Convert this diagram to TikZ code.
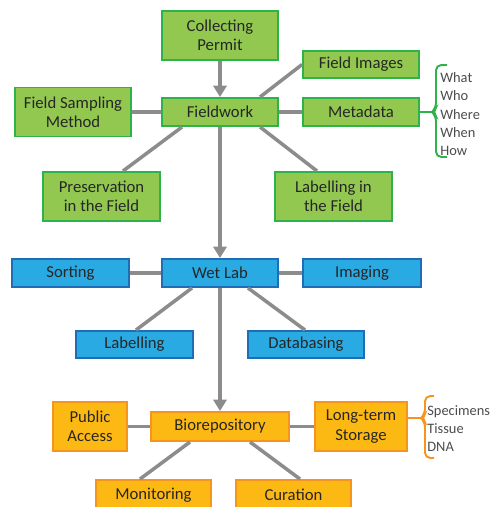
\documentclass[tikz,border=0pt]{standalone}
\usepackage{fontspec}
\setmainfont{Carlito}
\usetikzlibrary{arrows.meta}

\definecolor{grnfill}{HTML}{92C84F}
\definecolor{grnline}{HTML}{2DB34A}
\definecolor{bluefill}{HTML}{29AAE2}
\definecolor{blueline}{HTML}{1F6DB4}
\definecolor{orgfill}{HTML}{FDB913}
\definecolor{orgline}{HTML}{F7941D}
\definecolor{linkgray}{HTML}{8C8C8C}
\definecolor{txtdark}{HTML}{262626}

\begin{document}
\begin{tikzpicture}[x=0.02cm, y=-0.02cm,
	box/.style={draw, line width=1.1pt, align=center, inner sep=0pt, text=txtdark,
		font=\fontsize{9.5}{11}\selectfont, minimum width=2.32cm, minimum height=0.56cm},
	tall/.style={minimum height=0.98cm},
	fieldbox/.style={box, fill=grnfill, draw=grnline},
	labbox/.style={box, fill=bluefill, draw=blueline},
	repobox/.style={box, fill=orgfill, draw=orgline},
	link/.style={draw=linkgray, line width=2pt},
	flow/.style={link, -{Triangle[width=7.5pt,length=6.5pt]}},
	sidelist/.style={align=left, anchor=north west, inner sep=0pt, text=black!70,
		font=\fontsize{8.2}{10.3}\selectfont}]
	\useasboundingbox (0,0) rectangle (494,507);
	% fieldwork stage
	\node[fieldbox, tall] (permit) at (220,35.5) {Collecting\\Permit};
	\node[fieldbox] (fieldwork) at (220,112) {Fieldwork};
	\node[fieldbox, minimum height=0.54cm] (images) at (361,64.5) {Field Images};
	\node[fieldbox, tall] (method) at (73,112) {Field Sampling\\Method};
	\node[fieldbox] (metadata) at (361,112) {Metadata};
	\node[fieldbox, tall, minimum width=2.34cm] (preserv) at (101.5,196.5) {Preservation\\in the Field};
	\node[fieldbox, tall, minimum width=2.34cm] (labfield) at (333.5,196.5) {Labelling in\\the Field};
	% wet lab stage
	\node[labbox, minimum width=2.34cm] (sorting) at (70.5,273) {Sorting};
	\node[labbox] (wetlab) at (220,273) {Wet Lab};
	\node[labbox, minimum width=2.36cm] (imaging) at (362,273) {Imaging};
	\node[labbox, minimum width=2.34cm, minimum height=0.54cm] (labelling) at (134.5,344.5) {Labelling};
	\node[labbox, minimum height=0.54cm] (databasing) at (306,344.5) {Databasing};
	% repository stage
	\node[repobox, tall, minimum width=1.48cm] (public) at (90,426.5) {Public\\Access};
	\node[repobox, minimum width=2.76cm, minimum height=0.58cm] (bio) at (220,426.5) {Biorepository};
	\node[repobox, tall, minimum width=1.84cm] (storage) at (361,426.5) {Long-term\\Storage};
	\node[repobox, minimum width=2.3cm, minimum height=0.6cm] (monitoring) at (153.5,495) {Monitoring};
	\node[repobox, minimum width=2.3cm, minimum height=0.6cm] (curation) at (293.5,495) {Curation};
	% main flow
	\draw[flow] (permit) -- (fieldwork);
	\draw[flow] (fieldwork) -- (wetlab);
	\draw[flow] (wetlab) -- (bio);
	% spokes
	\draw[link] (fieldwork) -- (method);
	\draw[link] (fieldwork) -- (metadata);
	\draw[link] ([xshift=0.8cm]fieldwork.north) -- (images.west);
	\draw[link] ([xshift=-0.76cm]fieldwork.south) -- ([xshift=0.43cm]preserv.north);
	\draw[link] ([xshift=0.8cm]fieldwork.south) -- ([xshift=-0.33cm]labfield.north);
	\draw[link] (wetlab) -- (sorting);
	\draw[link] (wetlab) -- (imaging);
	\draw[link] ([xshift=-0.56cm]wetlab.south) -- ([xshift=0.03cm]labelling.north);
	\draw[link] ([xshift=0.56cm]wetlab.south) -- ([xshift=-0.02cm]databasing.north);
	\draw[link] (bio) -- (public);
	\draw[link] (bio) -- (storage);
	\draw[link] ([xshift=-0.6cm]bio.south) -- ([xshift=-0.27cm]monitoring.north);
	\draw[link] ([xshift=0.6cm]bio.south) -- ([xshift=0.13cm]curation.north);
	% brace lists
	\coordinate (metatip) at (432,112);
	\draw[grnline, line width=1.1pt] (metadata) -- (metatip);
	\draw[grnline, line width=1.1pt, rounded corners=3pt] (447,65) -- (436,65) -- (436,108) -- (metatip) -- (436,116) -- (436,157) -- (447,157);
	\node[sidelist] (who) at (440,72.5) {What\\Who\\Where\\When\\How};
	\coordinate (storetip) at (421,418);
	\draw[orgline, line width=1.1pt] (storage.east |- storetip) -- (storetip);
	\draw[orgline, line width=1.1pt, rounded corners=3pt] (434,396) -- (425,396) -- (425,414) -- (storetip) -- (425,422) -- (425,458) -- (434,458);
	\node[sidelist] (stored) at (427,405) {Specimens\\Tissue\\DNA};
\end{tikzpicture}
\end{document}
